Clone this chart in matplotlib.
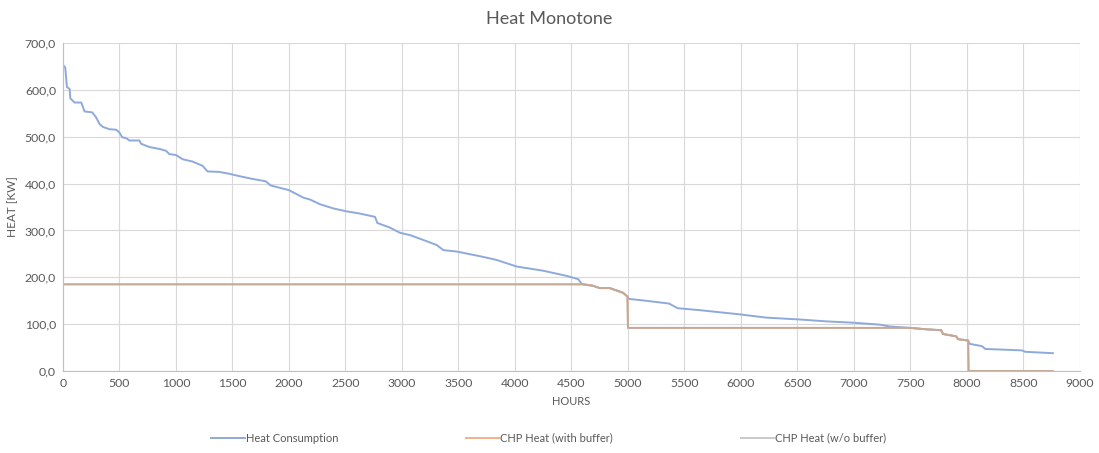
import matplotlib
matplotlib.use("Agg")
import matplotlib.pyplot as plt
from matplotlib.ticker import FuncFormatter, MultipleLocator

plt.rcParams['font.family'] = ['Lato', 'DejaVu Sans']

# Heat consumption (sorted load duration curve)
hours = [0, 20, 35, 59, 65, 103, 162, 191, 259, 294, 324, 353, 412, 470, 500, 524,
         559, 588, 676, 691, 765, 853, 912, 941, 1000, 1059, 1147, 1235, 1279, 1382,
         1471, 1559, 1676, 1794, 1838, 2000, 2127, 2186, 2274, 2392, 2504, 2628, 2761,
         2782, 2894, 2982, 3071, 3174, 3307, 3366, 3484, 3690, 3838, 4015, 4251, 4457,
         4560, 4590, 4690, 4749, 4838, 4897, 4956, 4995, 5005, 5157, 5363, 5440, 5630,
         5985, 6221, 6516, 6752, 7000, 7227, 7316, 7500, 7640, 7772, 7787, 7905, 7920,
         8010, 8024, 8133, 8162, 8280, 8486, 8515, 8760]
heat = [653, 648, 606, 602, 582, 573, 573, 554, 552, 541, 527, 521, 516, 515, 509, 499,
        497, 492, 492, 485, 478, 474, 470, 463, 461, 452, 447, 438, 426, 425,
        421, 416, 410, 405, 396, 386, 370, 366, 356, 347, 341, 336, 329,
        316, 306, 295, 290, 281, 269, 258, 255, 245, 237, 223, 214, 203,
        196, 186, 182, 177, 177, 172, 167, 159, 154, 150, 144, 134, 130,
        121, 114, 110, 106, 103, 99, 95, 92, 89, 87, 79, 74, 68,
        65, 58, 53, 47, 46, 44, 41, 38]

# CHP heat output
chp_hours = [0, 4590, 4690, 4749, 4838, 4897, 4956, 4995, 5000, 7500, 7640, 7772,
             7787, 7905, 7920, 8010, 8015, 8760]
chp_with_buffer = [185, 185, 182, 177, 177, 172, 167, 159, 92, 92, 89, 87,
                   79, 74, 68, 65, 0, 0]
chp_wo_buffer = [185, 185, 182, 177, 177, 172, 167, 159, 92, 92, 89, 87,
                 79, 74, 68, 65, 0, 0]

fig = plt.figure(figsize=(10.99, 4.53), dpi=100)
ax = fig.add_axes([0.0573, 0.181, 0.9254, 0.724])

ax.plot(hours, heat, color='#8EA9DB', lw=1.4, label='Heat Consumption')
ax.plot(chp_hours, chp_with_buffer, color='#F4B183', lw=1.4, label='CHP Heat (with buffer)')
ax.plot(chp_hours, chp_wo_buffer, color='#A5A5A5', lw=1.4, alpha=0.6, label='CHP Heat (w/o buffer)')

ax.set_xlim(0, 9000)
ax.set_ylim(0, 700)
ax.xaxis.set_major_locator(MultipleLocator(500))
ax.yaxis.set_major_locator(MultipleLocator(100))
ax.yaxis.set_major_formatter(FuncFormatter(lambda v, p: f"{v:.1f}".replace('.', ',')))
ax.grid(True, color='#D9D9D9', lw=0.8)
ax.set_axisbelow(True)
for s in ['top', 'right']:
    ax.spines[s].set_visible(False)
for s in ['left', 'bottom']:
    ax.spines[s].set_color('#BFBFBF')
ax.tick_params(length=0, labelsize=8.8, colors='#595959', pad=5)

ax.set_xlabel('HOURS', fontsize=8, color='#595959', labelpad=5)
ax.set_ylabel('HEAT [KW]', fontsize=8.5, color='#595959', labelpad=5)
fig.suptitle('Heat Monotone', fontsize=13, color='#595959', y=0.975)

leg = fig.legend(loc='center', bbox_to_anchor=(0.4995, 0.033), ncol=3, frameon=False,
                 fontsize=8, handlelength=3.0, handletextpad=0.1, columnspacing=11.5)
for t in leg.get_texts():
    t.set_color('#595959')

fig.savefig('out.png', dpi=100)
